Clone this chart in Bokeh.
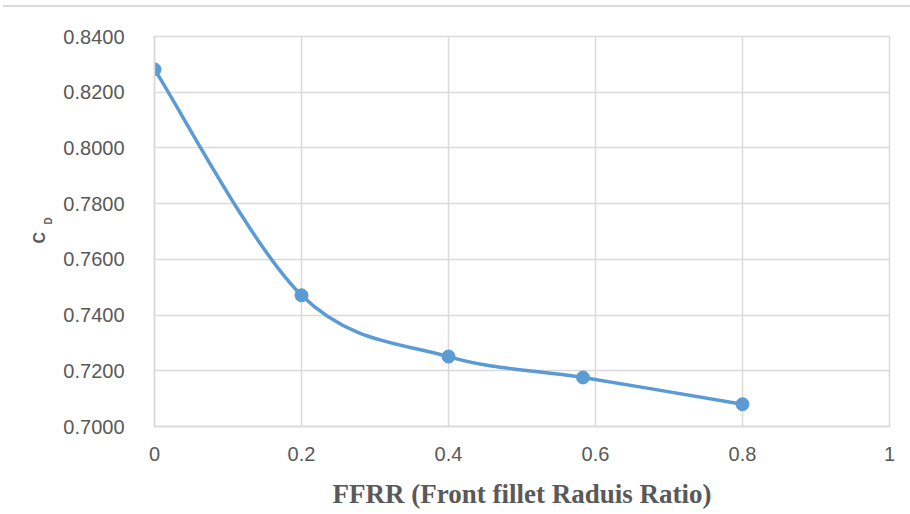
import math
from bokeh.plotting import figure
from bokeh.models import (Range1d, FixedTicker, NumeralTickFormatter, Title,
                          ColumnDataSource)
from bokeh.embed import file_html
from bokeh.resources import INLINE

# ---- data ----
ffrr = [0.0, 0.2, 0.4, 0.583, 0.8]
cd = [0.8282, 0.7471, 0.7251, 0.7176, 0.7080]
x_ticks = [0, 0.2, 0.4, 0.6, 0.8, 1]
x_tick_labels = ["0", "0.2", "0.4", "0.6", "0.8", "1"]
y_ticks = [0.70, 0.72, 0.74, 0.76, 0.78, 0.80, 0.82, 0.84]
x_title = "FFRR (Front fillet Raduis Ratio)"
y_title_main = "C"
y_title_sub = "D"

LINE = "#5b9bd5"
GRID = "#d9d9d9"
TXT = "#595959"

p = figure(frame_width=735, frame_height=390, width=910, height=514,
           output_backend="svg", toolbar_location=None,
           x_range=Range1d(0, 1), y_range=Range1d(0.70, 0.84),
           min_border_left=154, min_border_right=21,
           min_border_top=36, min_border_bottom=88,
           styles={"background-image": "linear-gradient(#d9d9d9, #d9d9d9)",
                   "background-size": "907px 2px",
                   "background-position": "3px 5px",
                   "background-repeat": "no-repeat"})
p.outline_line_color = GRID
p.outline_line_width = 1.5
p.background_fill_color = "white"
p.border_fill_color = None

# axes
p.xaxis.ticker = FixedTicker(ticks=x_ticks)
p.xaxis.major_label_overrides = {t: l for t, l in zip(x_ticks, x_tick_labels)}
p.yaxis.ticker = FixedTicker(ticks=y_ticks)
p.yaxis.formatter = NumeralTickFormatter(format="0.0000")
for ax in (p.xaxis, p.yaxis):
    ax.major_tick_line_color = None
    ax.minor_tick_line_color = None
    ax.axis_line_color = GRID
    ax.axis_line_width = 1.5
    ax.major_label_text_font = "Liberation Sans"
    ax.major_label_text_font_size = "20px"
    ax.major_label_text_color = TXT
    ax.major_label_text_font_style = "normal"
p.yaxis.major_label_standoff = 24
p.xaxis.major_label_standoff = 14
p.xaxis.axis_label = x_title
p.xaxis.axis_label_text_font = "Liberation Serif"
p.xaxis.axis_label_text_font_style = "bold"
p.xaxis.axis_label_text_font_size = "27px"
p.xaxis.axis_label_text_color = TXT
p.xaxis.axis_label_standoff = 15

p.xgrid.ticker = FixedTicker(ticks=x_ticks)
p.ygrid.ticker = FixedTicker(ticks=y_ticks)
p.grid.grid_line_color = GRID
p.grid.grid_line_width = 1.5

# smoothed line (Catmull-Rom -> cubic Bezier from the data points)
n = len(ffrr)
x0s, y0s, x1s, y1s, cx0, cy0, cx1, cy1 = [], [], [], [], [], [], [], []
for i in range(n - 1):
    im = max(i - 1, 0)
    ip2 = min(i + 2, n - 1)
    x0s.append(ffrr[i]); y0s.append(cd[i])
    x1s.append(ffrr[i + 1]); y1s.append(cd[i + 1])
    cx0.append(ffrr[i] + (ffrr[i + 1] - ffrr[im]) / 6)
    cy0.append(cd[i] + (cd[i + 1] - cd[im]) / 6)
    cx1.append(ffrr[i + 1] - (ffrr[ip2] - ffrr[i]) / 6)
    cy1.append(cd[i + 1] - (cd[ip2] - cd[i]) / 6)
bsrc = ColumnDataSource(dict(x0=x0s, y0=y0s, x1=x1s, y1=y1s,
                             cx0=cx0, cy0=cy0, cx1=cx1, cy1=cy1))
p.bezier(x0="x0", y0="y0", x1="x1", y1="y1", cx0="cx0", cy0="cy0",
         cx1="cx1", cy1="cy1", source=bsrc, line_color=LINE, line_width=3.5)
p.scatter(ffrr, cd, size=13, color=LINE, marker="circle")

# y-axis title C_D as two side titles (subscript closer to the axis)
p.add_layout(Title(text=y_title_sub, align="left", offset=202, standoff=14,
                   text_font="Liberation Sans", text_font_style="bold",
                   text_font_size="10px", text_color=TXT), "left")
p.add_layout(Title(text=y_title_main, align="left", offset=183, standoff=-28,
                   text_font="Liberation Sans", text_font_style="bold",
                   text_font_size="16px", text_color=TXT), "left")

open("out.html", "w").write(file_html(p, INLINE))
